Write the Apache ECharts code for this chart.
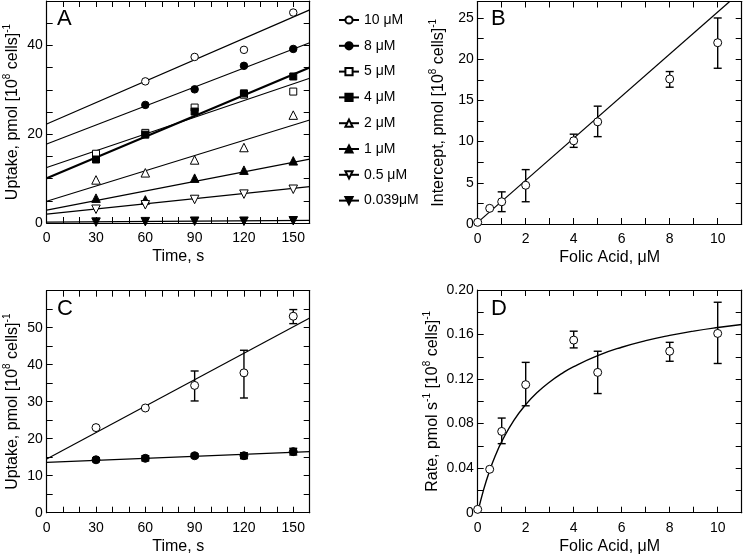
<!DOCTYPE html>
<html><head><meta charset="utf-8">
<script src="https://cdn.jsdelivr.net/npm/echarts@6/dist/echarts.min.js"></script>
<style>html,body{margin:0;padding:0;background:#fff}#c{width:745px;height:558px}</style>
</head><body><div id="c"></div><script>
// ---------- DATA ----------
// Panel A: uptake vs time for each folic acid concentration
const timesA = [30, 60, 90, 120, 150];
const concLabels = ['10 μM', '8 μM', '5 μM', '4 μM', '2 μM', '1 μM', '0.5 μM', '0.039μM'];
const uptake10 = [null, 31.9, 37.4, 39.0, 47.4];
const uptake8 = [null, 26.6, 30.1, 35.4, 39.2];
const uptake5 = [15.6, 20.3, 26.0, 28.9, 29.6];
const uptake4 = [14.3, 19.9, 25.1, 29.2, 33.0];
const uptake2 = [9.7, 11.3, 14.2, 17.0, 24.3];
const uptake1 = [5.6, 5.2, 10.1, 11.9, 14.0];
const uptake05 = [3.1, 4.1, 5.3, 6.5, 7.6];
const uptake0039 = [0.2, 0.3, 0.4, 0.4, 0.5];
// fitted lines (value at t = 0 and t = 160)
const fitTimesA = [0, 160];
const fit10 = [22.3, 48.0];
const fit8 = [17.8, 40.6];
const fit5 = [12.5, 32.6];
const fit4 = [10.1, 35.0];
const fit2 = [4.9, 23.2];
const fit1 = [2.9, 14.4];
const fit05 = [2.0, 8.2];
const fit0039 = [0.2, 0.6];

// Panel B: intercept vs folic acid
const folic = [0, 0.5, 1, 2, 4, 5, 8, 10];
const interceptB = [0.2, 1.9, 2.7, 4.7, 10.1, 12.4, 17.6, 22.0];
const interceptLo = [null, null, 1.5, 2.7, 9.3, 10.6, 16.6, 18.9];
const interceptHi = [null, null, 3.9, 6.6, 10.9, 14.3, 18.5, 25.0];
const fitBx = [0, 10.5];
const fitBy = [0.2, 27.0];

// Panel C: uptake vs time, two series
const timesC = [30, 60, 90, 120, 150];
const uptakeOpenC = [23.0, 28.3, 34.4, 37.8, 53.1];
const uptakeOpenLo = [null, null, 30.2, 31.0, 51.1];
const uptakeOpenHi = [null, null, 38.3, 43.9, 54.9];
const uptakeFilledC = [14.3, 14.7, 15.4, 15.4, 16.5];
const uptakeFilledLo = [13.8, 14.0, 14.9, 14.6, 15.6];
const uptakeFilledHi = [14.8, 15.4, 15.9, 16.2, 17.4];
const fitTimesC = [0, 160];
const fitOpenC = [14.5, 52.6];
const fitFilledC = [13.6, 16.5];

// Panel D: rate vs folic acid
const rateD = [0.003, 0.039, 0.073, 0.115, 0.155, 0.126, 0.145, 0.161];
const rateLo = [null, null, 0.062, 0.096, 0.148, 0.107, 0.136, 0.134];
const rateHi = [null, null, 0.085, 0.135, 0.163, 0.145, 0.153, 0.189];
// fitted saturation curve
const curveDx = [0, 0.25, 0.5, 0.75, 1, 1.5, 2, 2.5, 3, 3.5, 4, 5, 6, 7, 8, 9, 10, 11];
const curveDy = [0, 0.0209, 0.0379, 0.0520, 0.0638, 0.0827, 0.0971, 0.1084, 0.1174, 0.1249, 0.1312, 0.1411, 0.1486, 0.1545, 0.1592, 0.1631, 0.1663, 0.1690];

// ---------- STYLE ----------
const FONT = 'Liberation Sans, Arial, Helvetica, sans-serif';
const BLACK = '#000';
const pairs = (xs, ys) => xs.map((x, i) => [x, ys[i]]).filter(p => p[1] != null);
const errTriples = (xs, lo, hi) => xs.map((x, i) => [x, lo[i], hi[i]]).filter(p => p[1] != null);

const richName = {
  n: { fontSize: 16, fontFamily: FONT, color: BLACK, lineHeight: 20 },
  s: { fontSize: 10, fontFamily: FONT, color: BLACK, lineHeight: 10, verticalAlign: 'top' }
};

const grids = [
  { left: 46.7, top: 1, width: 263, height: 222 },
  { left: 477.7, top: 1.5, width: 264, height: 222.5 },
  { left: 46.7, top: 290.7, width: 263, height: 222 },
  { left: 477.7, top: 290, width: 264, height: 222.7 }
];
grids.forEach(g => { g.outerBoundsMode = 'none'; g.containLabel = false; });

function near(v, step) { return Math.abs(v / step - Math.round(v / step)) < 1e-6; }

function axisCommon(min, max, interval) {
  return {
    type: 'value', min: min, max: max, interval: interval,
    splitLine: { show: false },
    axisLine: { show: true, onZero: false, lineStyle: { color: BLACK, width: 1.2 } },
    axisTick: { show: true, inside: true, length: 6, lineStyle: { color: BLACK, width: 1 } },
    minorTick: { show: false }
  };
}

const xAxes = [], yAxes = [];
function labelOk(v, s) {
  if (!near(v, s.labelEvery)) return false;
  if (!s.showMax && v > s.max - 1e-9) return false;
  return true;
}
function addAxes(gi, xs, ys) {
  const xb = axisCommon(xs.min, xs.max, xs.interval);
  Object.assign(xb, {
    gridIndex: gi, position: 'bottom',
    axisLabel: {
      show: true, margin: 8, color: BLACK, fontSize: 14, fontFamily: FONT,
      formatter: v => labelOk(v, xs) ? (xs.fmt ? xs.fmt(v) : String(v)) : ''
    },
    name: xs.name, nameLocation: 'middle', nameGap: xs.nameGap,
    nameTextStyle: { fontSize: 16, fontFamily: FONT, color: BLACK, rich: richName }
  });
  const xt = axisCommon(xs.min, xs.max, xs.interval);
  Object.assign(xt, { gridIndex: gi, position: 'top', axisLabel: { show: false } });
  const yl = axisCommon(ys.min, ys.max, ys.interval);
  Object.assign(yl, {
    gridIndex: gi, position: 'left',
    axisLabel: {
      show: true, margin: 4, color: BLACK, fontSize: 14, fontFamily: FONT,
      formatter: v => labelOk(v, ys) ? (ys.fmt ? ys.fmt(v) : String(v)) : ''
    },
    name: ys.name, nameLocation: 'middle', nameGap: ys.nameGap, nameRotate: 90,
    nameTextStyle: { fontSize: 16, fontFamily: FONT, color: BLACK, rich: richName }
  });
  const yr = axisCommon(ys.min, ys.max, ys.interval);
  Object.assign(yr, { gridIndex: gi, position: 'right', axisLabel: { show: false } });
  const xi = xAxes.length; xAxes.push(xb, xt);
  const yi = yAxes.length; yAxes.push(yl, yr);
  return { x: xi, y: yi };
}

const axA = addAxes(0,
  { min: 0, max: 160, interval: 10, labelEvery: 30, name: 'Time, s', nameGap: 26 },
  { min: 0, max: 50, interval: 5, labelEvery: 20, name: '{n|Uptake, pmol [10}{s|8}{n| cells]}{s|-1}', nameGap: 24 });
const axB = addAxes(1,
  { min: 0, max: 11, interval: 1, labelEvery: 2, name: 'Folic Acid, μM', nameGap: 26 },
  { min: 0, max: 27, interval: 2.5, labelEvery: 5, name: '{n|Intercept, pmol [10}{s|8}{n| cells]}{s|-1}', nameGap: 29 });
const axC = addAxes(2,
  { min: 0, max: 160, interval: 10, labelEvery: 30, name: 'Time, s', nameGap: 26 },
  { min: 0, max: 60, interval: 5, labelEvery: 10, name: '{n|Uptake, pmol [10}{s|8}{n| cells]}{s|-1}', nameGap: 24 });
const axD = addAxes(3,
  { min: 0, max: 11, interval: 1, labelEvery: 2, name: 'Folic Acid, μM', nameGap: 26 },
  { min: 0, max: 0.2, interval: 0.02, labelEvery: 0.04, showMax: true, fmt: v => v === 0 ? '0' : v.toFixed(2),
    name: '{n|Rate, pmol s}{s|-1}{n| [10}{s|8}{n| cells]}{s|-1}', nameGap: 35 });

const series = [];
function fitLine(ax, name, xs, ys, width, sym, fill, rot, smooth) {
  series.push({
    type: 'line', name: name, xAxisIndex: ax.x, yAxisIndex: ax.y,
    data: pairs(xs, ys), showSymbol: false, symbol: sym || 'circle', symbolRotate: rot || 0,
    smooth: smooth || false, clip: true, silent: true, z: 2,
    lineStyle: { color: BLACK, width: width },
    itemStyle: { color: fill || '#fff', borderColor: BLACK, borderWidth: 1 }
  });
}
function points(ax, name, xs, ys, sym, fill, size, rot) {
  series.push({
    type: 'scatter', name: name, xAxisIndex: ax.x, yAxisIndex: ax.y,
    data: pairs(xs, ys), symbol: sym, symbolSize: size, symbolRotate: rot || 0, clip: false, z: 5,
    itemStyle: { color: fill, borderColor: BLACK, borderWidth: 1, opacity: 1 }
  });
}
function errorBars(ax, xs, lo, hi) {
  series.push({
    type: 'custom', xAxisIndex: ax.x, yAxisIndex: ax.y, z: 3, silent: true,
    data: errTriples(xs, lo, hi), encode: { x: 0, y: [1, 2] },
    renderItem: (params, api) => {
      const a = api.coord([api.value(0), api.value(1)]);
      const b = api.coord([api.value(0), api.value(2)]);
      const w = 4;
      const st = { stroke: BLACK, lineWidth: 1.4 };
      return { type: 'group', children: [
        { type: 'line', shape: { x1: a[0], y1: a[1], x2: b[0], y2: b[1] }, style: st },
        { type: 'line', shape: { x1: a[0] - w, y1: a[1], x2: a[0] + w, y2: a[1] }, style: st },
        { type: 'line', shape: { x1: b[0] - w, y1: b[1], x2: b[0] + w, y2: b[1] }, style: st }
      ] };
    }
  });
}

// Panel A
const aSets = [
  [uptake10, fit10, 'circle', '#fff', 0, 1.2],
  [uptake8, fit8, 'circle', BLACK, 0, 1.2],
  [uptake5, fit5, 'rect', '#fff', 0, 1.2],
  [uptake4, fit4, 'rect', BLACK, 0, 2.2],
  [uptake2, fit2, 'triangle', '#fff', 0, 1.2],
  [uptake1, fit1, 'triangle', BLACK, 0, 1.2],
  [uptake05, fit05, 'triangle', '#fff', 180, 1.2],
  [uptake0039, fit0039, 'triangle', BLACK, 180, 1.2]
];
aSets.forEach((s, i) => fitLine(axA, concLabels[i], fitTimesA, s[1], s[5], s[2], s[3], s[4]));
aSets.forEach((s, i) => points(axA, concLabels[i], timesA, s[0], s[2], s[3], s[2] === 'circle' ? 7.5 : (s[2] === 'rect' ? 7 : 8.5), s[4]));

// Panel B
fitLine(axB, 'fitB', fitBx, fitBy, 1.2);
errorBars(axB, folic, interceptLo, interceptHi);
points(axB, 'B', folic, interceptB, 'circle', '#fff', 8);

// Panel C
fitLine(axC, 'fitC1', fitTimesC, fitOpenC, 1.2);
fitLine(axC, 'fitC2', fitTimesC, fitFilledC, 1.2);
errorBars(axC, timesC, uptakeOpenLo, uptakeOpenHi);
errorBars(axC, timesC, uptakeFilledLo, uptakeFilledHi);
points(axC, 'C1', timesC, uptakeOpenC, 'circle', '#fff', 8);
points(axC, 'C2', timesC, uptakeFilledC, 'circle', BLACK, 8);

// Panel D
fitLine(axD, 'fitD', curveDx, curveDy, 1.4, 'circle', '#fff', 0, 0.5);
errorBars(axD, folic, rateLo, rateHi);
points(axD, 'D', folic, rateD, 'circle', '#fff', 8);

const letters = [['A', 57, 8], ['B', 491, 8], ['C', 57, 298], ['D', 491, 298]];

const chart = echarts.init(document.getElementById('c'), null, { renderer: 'canvas' });
chart.setOption({
  animation: false,
  backgroundColor: '#fff',
  textStyle: { fontFamily: FONT, color: BLACK },
  grid: grids,
  xAxis: xAxes,
  yAxis: yAxes,
  legend: {
    data: concLabels, orient: 'vertical', left: 333, top: 7,
    itemWidth: 20, itemHeight: 9, itemGap: 9.8,
    textStyle: { fontSize: 14, fontFamily: FONT, color: BLACK, lineHeight: 16 },
    selectedMode: false, inactiveColor: BLACK
  },
  graphic: letters.map(l => ({
    type: 'text', left: l[1], top: l[2], z: 10,
    style: { text: l[0], fontSize: 22, fontFamily: FONT, fill: BLACK }
  })),
  series: series
});
</script></body></html>
